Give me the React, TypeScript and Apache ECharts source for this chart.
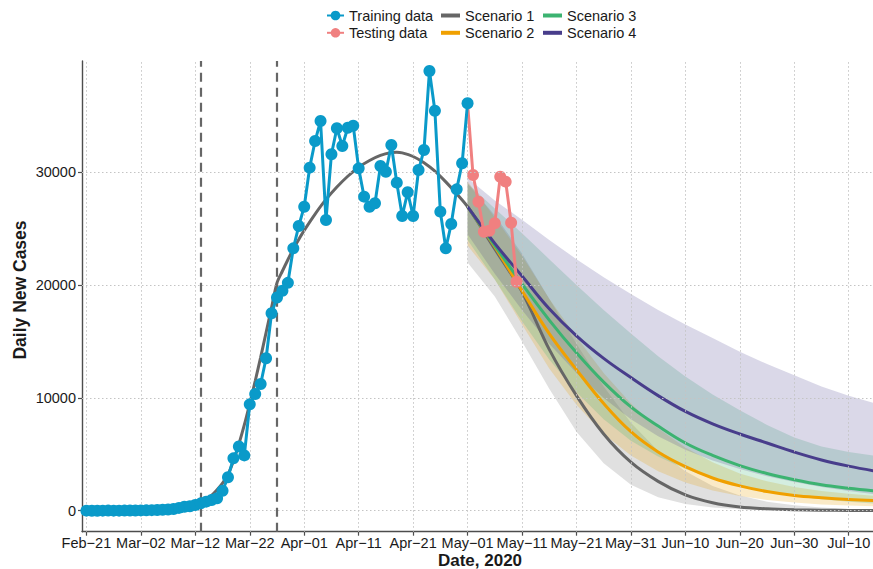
import React, { useEffect, useRef } from 'react';
import * as echarts from 'echarts';

// ---- axes ----
const X_TICK_DAYS = [0, 10, 20, 30, 40, 50, 60, 70, 80, 90, 100, 110, 120, 130, 140]; // days since Feb-21-2020
const X_TICK_LABELS = ['Feb−21', 'Mar−02', 'Mar−12', 'Mar−22', 'Apr−01', 'Apr−11', 'Apr−21', 'May−01', 'May−11', 'May−21', 'May−31', 'Jun−10', 'Jun−20', 'Jun−30', 'Jul−10'];
const Y_TICKS = [0, 10000, 20000, 30000];
const X_MIN = -0.81;
const X_MAX = 144.46;
const Y_MIN = -1862;
const Y_MAX = 39867;
const INTERVENTION_DAYS = [21, 35]; // Mar-13, Mar-27

// ---- training data: one value per day, starting Feb-21 (day 0) ----
const TRAIN_VALUES = [
  2, 0, 1, 5, 10, 3, 5, 10, 15, 20,
  25, 30, 50, 60, 80, 110, 150, 250, 350, 400,
  500, 650, 800, 950, 1100, 1770, 2960, 4640, 5700, 4900,
  9430, 10350, 11230, 13510, 17500, 18900, 19500, 20200, 23260, 25240,
  26950, 30410, 32770, 34550, 25770, 31600, 33900, 32330, 33950, 34130,
  30350, 27840, 26950, 27250, 30560, 30050, 32420, 29080, 26130, 28230,
  26130, 30200, 31980, 38980, 35460, 26510, 23260, 25420, 28490, 30800,
  36120,
];

// ---- testing data ----
const TEST_DAYS = [71, 72, 73, 74, 75, 76, 77, 78, 79];
const TEST_VALUES = [29760, 27390, 24730, 24820, 25480, 29610, 29170, 25530, 20300];

// ---- scenario 1 fitted curve over the training period ----
const S1_FIT_DAYS = [0, 5, 10, 14, 16, 18, 20, 21, 22, 23, 24, 25, 26, 27, 28, 29, 30, 31, 32, 33, 34, 35, 36, 37, 38, 39, 40, 42, 44, 46, 48, 50, 52, 54, 56, 57, 58, 60, 62, 64, 66, 68];
const S1_FIT_VALUES = [0, 5, 20, 80, 150, 250, 450, 650, 950, 1350, 1850, 2450, 3200, 4400, 5900, 7600, 9500, 11500, 13600, 15800, 18000, 20200, 21250, 22250, 23200, 24050, 24850, 26300, 27600, 28700, 29650, 30450, 31050, 31500, 31750, 31780, 31720, 31400, 30850, 30100, 29150, 28100];

// ---- projections (from May-01) ----
const PROJ_DAYS = [70, 75, 80, 85, 90, 95, 100, 105, 110, 115, 120, 125, 130, 135, 140, 145];
const S1_PROJ = [26950, 23200, 19400, 14300, 10200, 6800, 4300, 2600, 1400, 700, 330, 170, 90, 45, 22, 10];
const S2_PROJ = [26950, 23400, 19500, 15700, 12500, 9500, 7000, 5200, 3900, 2900, 2200, 1700, 1350, 1150, 1000, 900];
const S3_PROJ = [26950, 23500, 20100, 16900, 14000, 11400, 9200, 7500, 6000, 4900, 4000, 3300, 2750, 2300, 2000, 1750];
const S4_PROJ = [26950, 23700, 20800, 17900, 15500, 13500, 11800, 10200, 8800, 7700, 6800, 6000, 5200, 4500, 3950, 3500];

const S1_LO = [22000, 19000, 15000, 10800, 7000, 4200, 2300, 1200, 600, 280, 130, 60, 25, 10, 5, 2];
const S1_HI = [29000, 26200, 22800, 18800, 14800, 11000, 7800, 5300, 3500, 2200, 1350, 800, 480, 280, 160, 90];
const S2_LO = [23500, 20500, 16500, 12600, 9400, 6800, 4900, 3500, 2500, 1800, 1300, 950, 720, 560, 450, 380];
const S2_HI = [29200, 26000, 22600, 18800, 15400, 12200, 9500, 7300, 5600, 4300, 3300, 2600, 2100, 1750, 1500, 1300];
const S3_LO = [24000, 20500, 16800, 13400, 10500, 8100, 6200, 4800, 3700, 2850, 2200, 1700, 1300, 1020, 800, 620];
const S3_HI = [29000, 26800, 24600, 22300, 20000, 17800, 15700, 13700, 11900, 10300, 8900, 7600, 6500, 5700, 5200, 4850];
const S4_LO = [24500, 21000, 17800, 14800, 12200, 10000, 8100, 6600, 5400, 4450, 3700, 3050, 2550, 2100, 1750, 1450];
const S4_HI = [29500, 27500, 25800, 24000, 22300, 20700, 19200, 17800, 16500, 15300, 14100, 13000, 12000, 11000, 10200, 9500];

const FONT = '"Liberation Sans", Arial, Helvetica, sans-serif';
const TEXT_COLOR = '#1a1a1a';
const BLUE = '#0A9AC9';
const PINK = '#F08080';
const C1 = '#666666';
const C2 = '#F0A000';
const C3 = '#3CB371';
const C4 = '#483D8B';

function bandSeries(name: string, lo: number[], hi: number[], fill: string) {
  return {
    type: 'custom',
    name,
    silent: true,
    clip: true,
    z: 2,
    data: [[PROJ_DAYS[0], lo[0]]],
    encode: { x: 0, y: 1 },
    renderItem: (_params: any, api: any) => {
      const top = PROJ_DAYS.map((d, i) => api.coord([d, hi[i]]));
      const bottom = PROJ_DAYS.map((d, i) => api.coord([d, lo[i]])).reverse();
      return {
        type: 'polygon',
        shape: { points: top.concat(bottom) },
        style: { fill },
      };
    },
  };
}

function projLine(name: string, values: number[], color: string) {
  return {
    type: 'line',
    name,
    color,
    z: 3,
    data: PROJ_DAYS.map((d, i) => [d, values[i]]),
    showSymbol: false,
    symbol: 'none',
    smooth: 0.4,
    lineStyle: { color, width: 3 },
    clip: true,
  };
}

export default function App() {
  const ref = useRef<HTMLDivElement>(null);

  useEffect(() => {
    if (!ref.current) return;
    const chart = echarts.init(ref.current, undefined, { renderer: 'svg' });

    const s1Data = S1_FIT_DAYS.map((d, i) => [d, S1_FIT_VALUES[i]]).concat(
      PROJ_DAYS.map((d, i) => [d, S1_PROJ[i]])
    );

    const testData: any[] = [{ value: [70, TRAIN_VALUES[70]], symbol: 'none' }].concat(
      TEST_DAYS.map((d, i) => ({ value: [d, TEST_VALUES[i]] }) as any)
    );

    const legendText = { fontSize: 14.5, color: TEXT_COLOR, fontFamily: FONT, lineHeight: 15 };

    const option: any = {
      animation: false,
      backgroundColor: '#ffffff',
      textStyle: { fontFamily: FONT },
      grid: { left: 82, right: 0, top: 61, bottom: 37.3, containLabel: false, outerBoundsMode: 'none' },
      legend: [
        {
          data: ['Training data', 'Testing data'],
          orient: 'vertical',
          left: 326,
          top: 8,
          padding: 0,
          itemWidth: 17,
          itemHeight: 12,
          itemGap: 2.3,
          selectedMode: false,
          textStyle: legendText,
        },
        {
          data: [
            { name: 'Scenario 1', icon: 'rect' },
            { name: 'Scenario 2', icon: 'rect' },
          ],
          orient: 'vertical',
          left: 441,
          top: 8,
          padding: 0,
          itemWidth: 19,
          itemHeight: 4,
          itemGap: 2.3,
          selectedMode: false,
          textStyle: legendText,
        },
        {
          data: [
            { name: 'Scenario 3', icon: 'rect' },
            { name: 'Scenario 4', icon: 'rect' },
          ],
          orient: 'vertical',
          left: 543,
          top: 8,
          padding: 0,
          itemWidth: 19,
          itemHeight: 4,
          itemGap: 2.3,
          selectedMode: false,
          textStyle: legendText,
        },
      ],
      xAxis: {
        type: 'value',
        min: X_MIN,
        max: X_MAX,
        axisLine: { show: true, onZero: false, lineStyle: { color: '#4d4d4d', width: 1.4 } },
        axisTick: { show: true, length: 4, customValues: X_TICK_DAYS, lineStyle: { color: '#4d4d4d', width: 1.2 } },
        axisLabel: {
          customValues: X_TICK_DAYS,
          margin: 4,
          fontSize: 14.5,
          lineHeight: 14.5,
          color: TEXT_COLOR,
          fontFamily: FONT,
          formatter: (v: number) => {
            const idx = X_TICK_DAYS.indexOf(Math.round(v));
            return idx >= 0 ? X_TICK_LABELS[idx] : '';
          },
        },
        splitLine: { show: false },
      },
      yAxis: {
        type: 'value',
        min: Y_MIN,
        max: Y_MAX,
        axisLine: { show: true, onZero: false, lineStyle: { color: '#4d4d4d', width: 1.4 } },
        axisTick: { show: true, length: 4, customValues: Y_TICKS, lineStyle: { color: '#4d4d4d', width: 1.2 } },
        axisLabel: {
          customValues: Y_TICKS,
          margin: 6,
          fontSize: 14.5,
          color: TEXT_COLOR,
          fontFamily: FONT,
          formatter: (v: number) => String(v),
        },
        splitLine: { show: false },
      },
      graphic: [
        {
          type: 'text',
          x: 480,
          y: 560.5,
          style: {
            x: 0,
            y: 0,
            text: 'Date, 2020',
            fontSize: 17,
            fontWeight: 'bold',
            fontFamily: FONT,
            fill: TEXT_COLOR,
            align: 'center',
            verticalAlign: 'middle',
          },
        },
        {
          type: 'text',
          x: 20,
          y: 290,
          rotation: Math.PI / 2,
          style: {
            x: 0,
            y: 0,
            text: 'Daily New Cases',
            fontSize: 17.5,
            fontWeight: 'bold',
            fontFamily: FONT,
            fill: TEXT_COLOR,
            align: 'center',
            verticalAlign: 'middle',
          },
        },
      ],
      series: [
        {
          type: 'line',
          name: 'grid',
          data: [],
          z: 1,
          silent: true,
          markLine: {
            silent: true,
            symbol: ['none', 'none'],
            label: { show: false },
            animation: false,
            lineStyle: { color: '#c4c4c4', width: 1, type: [1.5, 2.5] },
            data: [
              ...X_TICK_DAYS.map((d) => ({ xAxis: d })),
              ...Y_TICKS.map((v) => ({ yAxis: v })),
            ],
          },
        },
        bandSeries('Scenario 1 band', S1_LO, S1_HI, 'rgba(102,102,102,0.2)'),
        bandSeries('Scenario 2 band', S2_LO, S2_HI, 'rgba(230,159,0,0.22)'),
        bandSeries('Scenario 3 band', S3_LO, S3_HI, 'rgba(60,179,113,0.22)'),
        bandSeries('Scenario 4 band', S4_LO, S4_HI, 'rgba(72,61,139,0.2)'),
        {
          type: 'line',
          name: 'Scenario 1',
          color: C1,
          z: 3,
          data: s1Data,
          showSymbol: false,
          symbol: 'none',
          smooth: 0.3,
          lineStyle: { color: C1, width: 3 },
          clip: true,
        },
        projLine('Scenario 2', S2_PROJ, C2),
        projLine('Scenario 3', S3_PROJ, C3),
        projLine('Scenario 4', S4_PROJ, C4),
        {
          type: 'line',
          name: 'Testing data',
          color: PINK,
          z: 4,
          data: testData,
          symbol: 'circle',
          symbolSize: 12,
          showSymbol: true,
          itemStyle: { color: PINK },
          lineStyle: { color: PINK, width: 3 },
        },
        {
          type: 'line',
          name: 'Training data',
          color: BLUE,
          z: 5,
          data: TRAIN_VALUES.map((v, i) => [i, v]),
          symbol: 'circle',
          symbolSize: 12,
          showSymbol: true,
          itemStyle: { color: BLUE },
          lineStyle: { color: BLUE, width: 3 },
        },
        {
          type: 'line',
          name: 'interventions',
          data: [],
          z: 6,
          silent: true,
          markLine: {
            silent: true,
            symbol: ['none', 'none'],
            label: { show: false },
            animation: false,
            lineStyle: { color: '#666666', width: 2.2, type: [9, 6] },
            data: INTERVENTION_DAYS.map((d) => ({ xAxis: d })),
          },
        },
      ],
    };

    chart.setOption(option);
    return () => chart.dispose();
  }, []);

  return (
    <div
      ref={ref}
      style={{ position: 'fixed', left: 0, top: 0, width: 873, height: 569, background: '#fff' }}
    />
  );
}
